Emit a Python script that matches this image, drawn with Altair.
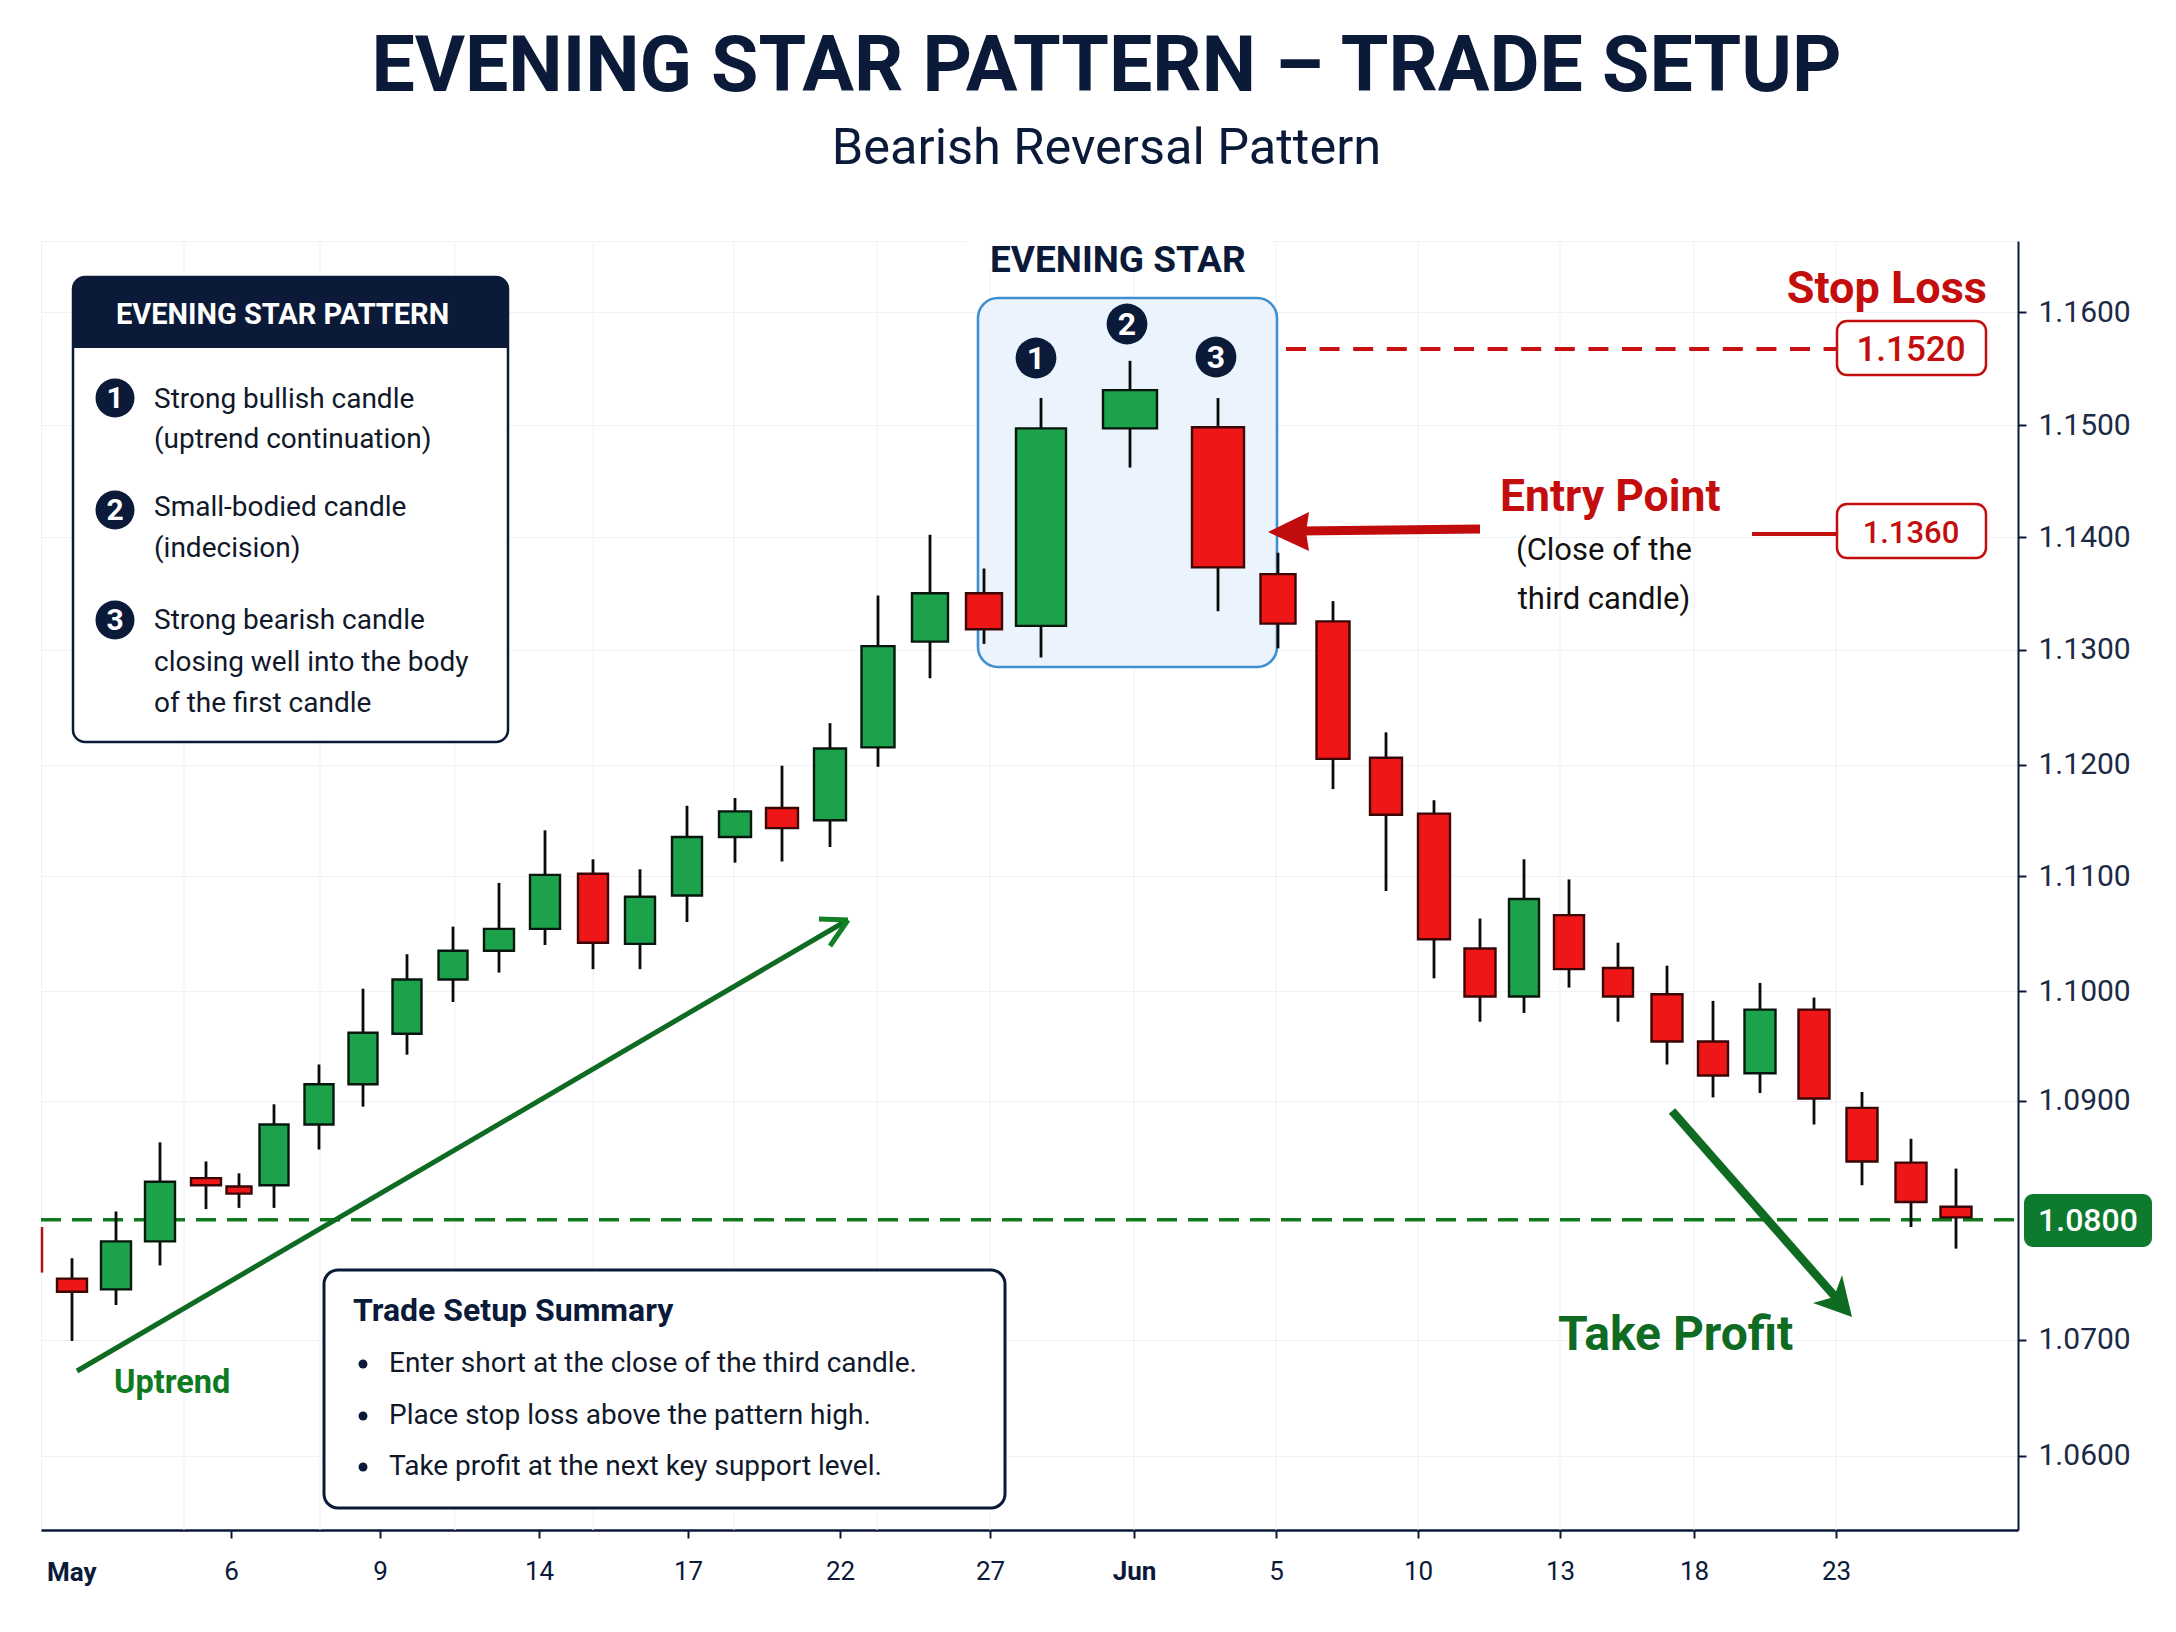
import altair as alt
import pandas as pd

##--Data
cx = [72, 116, 160, 206, 239, 274, 319, 363, 407, 453, 499, 545, 593, 640, 687, 735, 782, 830, 878, 930,
      984, 1041, 1130, 1218, 1278, 1333, 1386, 1434, 1480, 1524, 1569, 1618, 1667, 1713, 1760, 1814, 1862, 1911, 1956]
high = [1.0768, 1.0807, 1.0865, 1.0849, 1.0839, 1.0897, 1.0933, 1.1002, 1.1032, 1.1056, 1.1094, 1.1141, 1.1115, 1.1106, 1.1163, 1.1170, 1.1199, 1.1236, 1.1348, 1.1402,
        1.1372, 1.1524, 1.1557, 1.1524, 1.1386, 1.1343, 1.1228, 1.1168, 1.1063, 1.1115, 1.1097, 1.1042, 1.1022, 1.0991, 1.1007, 1.0994, 1.0908, 1.0868, 1.0843]
opens = [1.0751, 1.0742, 1.0782, 1.0835, 1.0828, 1.0829, 1.0880, 1.0915, 1.0961, 1.1010, 1.1035, 1.1054, 1.1102, 1.1041, 1.1083, 1.1135, 1.1161, 1.1150, 1.1215, 1.1307,
         1.1350, 1.1321, 1.1497, 1.1498, 1.1367, 1.1325, 1.1206, 1.1156, 1.1037, 1.0995, 1.1066, 1.1020, 1.0997, 1.0954, 1.0925, 1.0983, 1.0894, 1.0848, 1.0811]
closes = [1.0740, 1.0782, 1.0832, 1.0829, 1.0822, 1.0880, 1.0915, 1.0962, 1.1010, 1.1035, 1.1054, 1.1101, 1.1042, 1.1082, 1.1135, 1.1158, 1.1143, 1.1214, 1.1303, 1.1350,
          1.1318, 1.1497, 1.1531, 1.1373, 1.1323, 1.1205, 1.1155, 1.1045, 1.0995, 1.1080, 1.1019, 1.0995, 1.0954, 1.0923, 1.0983, 1.0902, 1.0849, 1.0815, 1.0802]
low = [1.0699, 1.0729, 1.0762, 1.0809, 1.0810, 1.0810, 1.0859, 1.0895, 1.0942, 1.0990, 1.1016, 1.1040, 1.1019, 1.1019, 1.1060, 1.1112, 1.1113, 1.1126, 1.1198, 1.1275,
       1.1305, 1.1293, 1.1462, 1.1334, 1.1301, 1.1178, 1.1087, 1.1011, 1.0972, 1.0980, 1.1003, 1.0972, 1.0933, 1.0903, 1.0907, 1.0880, 1.0829, 1.0794, 1.0776]
bodyW = [30, 30, 30, 30, 25, 29, 29, 29, 29, 29, 30, 30, 30, 30, 30, 32, 32, 32, 33, 36,
         36, 50, 54, 52, 35, 33, 32, 32, 31, 30, 30, 30, 31, 30, 31, 31, 31, 31, 31]

yTicks = [1.06, 1.07, 1.09, 1.10, 1.11, 1.12, 1.13, 1.14, 1.15, 1.16]
xTicks = [231, 380, 539, 688, 840, 990, 1134, 1276, 1418, 1560, 1694, 1836]
xLabels = ["6", "9", "14", "17", "22", "27", "Jun", "5", "10", "13", "18", "23"]
xGrid = [184, 320, 455, 593, 734, 877, 990, 1134, 1276, 1418, 1560, 1694, 1836]

##--Layout: picture pixels of the plot frame
PL, PT, PR, PB = 41, 241, 2018, 1530
W, H = PR - PL, PB - PT
FONT = "Roboto"
NAVY = "#0a1a38"
INK = "#10182a"
RED = "#c40d0d"
GREEN = "#0f6b22"

# the printed axis is not quite even, so the scale follows it tick by tick
yDomain = [1.05356, 1.06, 1.07, 1.08, 1.09, 1.10, 1.11, 1.12, 1.13, 1.14, 1.15, 1.16, 1.16634]
yPixels = [1530, 1455.5, 1339.8, 1219.8, 1100.7, 991, 876, 764.6, 649.5, 537, 425, 312.4, 241]
yScale = alt.Scale(domain=yDomain, range=[p - PT for p in yPixels])
xScale = alt.Scale(domain=[PL, PR], range=[0, W])

labelMap = ",".join('"%d":"%s"' % (v, s) for v, s in zip(xTicks, xLabels))
xAxis = alt.Axis(values=xTicks, grid=False, title=None, labelExpr="{%s}[datum.value]" % labelMap,
                 labelFont=FONT, labelFontSize=26, labelColor=NAVY, labelPadding=20,
                 labelFontWeight={"expr": "datum.value == 1134 ? 'bold' : 'normal'"},
                 tickSize=8, tickWidth=2, tickColor=NAVY, domainColor=NAVY, domainWidth=2.5)
yAxis = alt.Axis(orient="right", values=yTicks, format=".4f", grid=True, title=None,
                 gridColor="#f1f2f6", gridWidth=1.2,
                 labelFont=FONT, labelFontSize=30, labelColor="#1c2a44", labelPadding=12,
                 tickSize=8, tickWidth=2, tickColor=NAVY, domainColor=NAVY, domainWidth=2)

df = pd.DataFrame({"cx": cx, "high": high, "open": opens, "close": closes, "low": low, "w": bodyW})
df["x0"] = df.cx - df.w / 2
df["x1"] = df.cx + df.w / 2
df["top"] = df[["open", "close"]].max(axis=1)
df["bot"] = df[["open", "close"]].min(axis=1)
df["fill"] = ["#1ba24a" if c > o else "#ee1616" for o, c in zip(opens, closes)]
df["edge"] = ["#07170e" if c > o else "#3a0606" for o, c in zip(opens, closes)]

one = pd.DataFrame({"a": [0]})


##--Helpers for the annotations
def text(s, x, y, size, color=NAVY, weight="normal", align="left"):
    return alt.Chart(one).mark_text(text=s, font=FONT, fontSize=size, color=color, fontWeight=weight,
                                    align=align, baseline="middle").encode(x=alt.value(x - PL), y=alt.value(y - PT))


def box(x0, y0, x1, y1, fill="#ffffff", stroke=None, sw=0, radius=0, **kw):
    opts = dict(fill=fill, cornerRadius=radius, **kw)
    if stroke:
        opts.update(stroke=stroke, strokeWidth=sw)
    return alt.Chart(one).mark_rect(**opts).encode(
        x=alt.value(x0 - PL), x2=alt.value(x1 - PL), y=alt.value(y0 - PT), y2=alt.value(y1 - PT))


def seg(x0, y0, x1, y1, color, sw, dash=None):
    opts = dict(color=color, strokeWidth=sw)
    if dash:
        opts["strokeDash"] = dash
    return alt.Chart(one).mark_rule(**opts).encode(
        x=alt.value(x0 - PL), y=alt.value(y0 - PT), x2=alt.value(x1 - PL), y2=alt.value(y1 - PT))


def badge(n, x, y, r=23, size=32):
    dot = alt.Chart(one).mark_circle(color=NAVY, opacity=1, size=3.1416 * r * r).encode(
        x=alt.value(x - PL), y=alt.value(y - PT))
    return dot + text(str(n), x, y + 1, size, color="white", weight="bold", align="center")


def head(path, x, y, color):
    # size 4 makes one path unit one pixel
    return alt.Chart(one).mark_point(shape=path, size=4, filled=True, color=color, opacity=1).encode(
        x=alt.value(x - PL), y=alt.value(y - PT))


##--Price panel
vgrid = alt.Chart(pd.DataFrame({"x": xGrid})).mark_rule(color="#f3f4f7", strokeWidth=1.2).encode(
    alt.X("x:Q", scale=xScale, axis=xAxis))

tpLine = alt.Chart(pd.DataFrame({"y": [1.08], "x": [PL], "x2": [2024]})).mark_rule(
    color="#13791f", strokeWidth=3.5, strokeDash=[20, 11]).encode(
    alt.X("x:Q", scale=xScale, axis=xAxis), alt.X2("x2:Q"), alt.Y("y:Q", scale=yScale, axis=yAxis))

stub = alt.Chart(pd.DataFrame({"x": [PL + 1], "high": [1.0794], "low": [1.0756]})).mark_rule(
    color="#b3101a", strokeWidth=2.5).encode(
    alt.X("x:Q", scale=xScale, axis=xAxis), alt.Y("high:Q", scale=yScale, axis=yAxis), alt.Y2("low:Q"))

wicks = alt.Chart(df).mark_rule(color="#0a0a0a", strokeWidth=2.8).encode(
    alt.X("cx:Q", scale=xScale, axis=xAxis),
    alt.Y("high:Q", scale=yScale, axis=yAxis),
    alt.Y2("low:Q"))

bodies = alt.Chart(df).mark_rect(strokeWidth=2.4).encode(
    alt.X("x0:Q", scale=xScale, axis=xAxis), alt.X2("x1:Q"),
    alt.Y("top:Q", scale=yScale, axis=yAxis), alt.Y2("bot:Q"),
    fill=alt.Fill("fill:N", scale=None), stroke=alt.Stroke("edge:N", scale=None))

##--Annotations
legendBox = [
    box(73, 277, 508, 742, stroke=NAVY, sw=2.5, radius=12),
    box(73, 277, 508, 348, fill=NAVY, cornerRadiusTopLeft=12, cornerRadiusTopRight=12),
    text("EVENING STAR PATTERN", 116, 315, 29, color="white", weight="bold"),
    badge(1, 115, 398, r=22, size=30), text("Strong bullish candle", 154, 400, 28, color=INK),
    text("(uptrend continuation)", 154, 440, 28, color=INK),
    badge(2, 115, 510, r=22, size=30), text("Small-bodied candle", 154, 508, 28, color=INK),
    text("(indecision)", 154, 549, 28, color=INK),
    badge(3, 115, 620, r=22, size=30), text("Strong bearish candle", 154, 621, 28, color=INK),
    text("closing well into the body", 154, 663, 28, color=INK),
    text("of the first candle", 154, 704, 28, color=INK),
]

summaryBox = [
    box(324, 1270, 1005, 1508, stroke=NAVY, sw=3, radius=14),
    text("Trade Setup Summary", 353, 1311, 32, weight="bold"),
]
for line, yy in zip(["Enter short at the close of the third candle.", "Place stop loss above the pattern high.",
                     "Take profit at the next key support level."], [1364, 1416, 1467]):
    summaryBox.append(alt.Chart(one).mark_circle(color=NAVY, opacity=1, size=80).encode(
        x=alt.value(363 - PL), y=alt.value(yy - PT)))
    summaryBox.append(text(line, 389, yy, 28, color=INK))

star = [
    box(966, 236, 1272, 268),
    text("EVENING STAR", 990, 261, 37, weight="bold"),
    box(978, 298, 1277, 667, fill="#ebf4fd", stroke="#3d8fd0", sw=2.6, radius=20),
]
starBadges = [badge(1, 1036, 358), badge(2, 1127, 324), badge(3, 1216, 357)]

levels = [
    seg(1286, 349, 1838, 349, "#c81010", 4, dash=[20, 13.6]),
    text("Stop Loss", 1987, 289, 45, color=RED, weight="bold", align="right"),
    box(1837, 321, 1986, 375, stroke=RED, sw=2.5, radius=10),
    text("1.1520", 1911, 350, 35, color=RED, weight=500, align="center"),

    seg(1752, 534, 1838, 534, RED, 4),
    box(1837, 504, 1986, 558, stroke=RED, sw=2.5, radius=10),
    text("1.1360", 1911, 534, 31, color=RED, weight=500, align="center"),

    text("Entry Point", 1500, 498, 44.5, color=RED, weight="bold"),
    text("(Close of the", 1604, 551, 31, color="#111111", align="center"),
    text("third candle)", 1604, 600, 31, color="#111111", align="center"),
    seg(1480, 529, 1300, 531, "#c00c0c", 9),
    head("M0,0 L41,-20 L38,0 L41,19 Z", 1268, 532, "#c00c0c"),

    box(2024, 1194, 2152, 1247, fill="#0d7a2e", radius=9),
    text("1.0800", 2088, 1221, 32, color="white", weight=500, align="center"),
]

arrows = [
    seg(77, 1371, 846, 921, GREEN, 5),
    seg(848, 920, 819, 919, "#128024", 5),
    seg(848, 920, 830, 946, "#128024", 5),
    text("Uptrend", 114, 1383, 32.5, color="#0e7a22", weight="bold"),

    seg(1672, 1111, 1838, 1300, GREEN, 8.5),
    head("M0,0 L-10,-42 L-18,-20 L-39,-14 Z", 1852, 1317, GREEN),
    text("Take Profit", 1558, 1336, 48, color=GREEN, weight="bold"),
]

xMay = text("May", 47, 1573, 26, weight="bold")

chart = alt.layer(
    vgrid, *star, tpLine, stub, wicks, bodies, *starBadges, *legendBox, *summaryBox, *levels, *arrows, xMay
).properties(
    width=W, height=H,
    padding={"left": PL - 8, "top": PT - 8, "right": 2168 - PR, "bottom": 1624 - PB},
    autosize=alt.AutoSizeParams(type="none"),
    background="white",
    title=alt.TitleParams(
        text="EVENING STAR PATTERN \u2013 TRADE SETUP",
        subtitle="Bearish Reversal Pattern",
        anchor="middle", dx=77, offset=61, color=NAVY, font=FONT, fontSize=77, fontWeight="bold",
        subtitleColor=NAVY, subtitleFont=FONT, subtitleFontSize=50.5, subtitlePadding=17),
).configure_view(stroke="#eef0f4")

chart.save("out.html", embed_options={"renderer": "svg", "actions": False})
